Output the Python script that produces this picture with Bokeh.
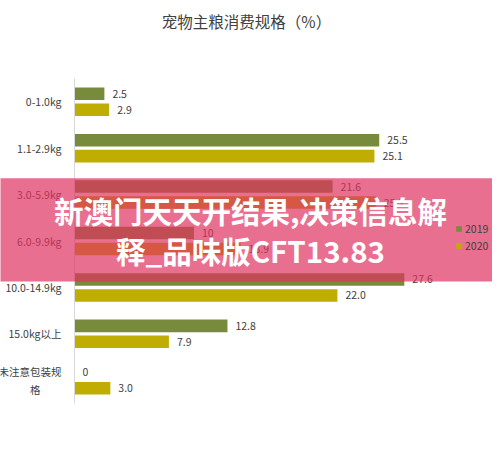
from bokeh.plotting import figure
from bokeh.models import FactorRange, Range1d, ColumnDataSource, Legend, LegendItem, BoxAnnotation, Label
from bokeh.transform import dodge
from bokeh.core.properties import value
from bokeh.embed import file_html
from bokeh.resources import INLINE

categories = ["0-1.0kg", "1.1-2.9kg", "3.0-5.9kg", "6.0-9.9kg", "10.0-14.9kg", "15.0kg以上", "未注意包装规格"]
values_2019 = [2.5, 25.5, 21.6, 10, 27.6, 12.8, 0]
values_2020 = [2.9, 25.1, 25.2, 13.9, 22.0, 7.9, 3.0]
series = ["2019", "2020"]
title_text = "宠物主粮消费规格（%）"
banner_lines = ["新澳门天天开结果,决策信息解", "释_品味版CFT13.83"]

FONT = "Noto Sans CJK SC"
C19 = "#788a3b"
C20 = "#bfad04"
TXT = "#404040"

# axis factors: the long last label wraps onto two lines (second line centred) as in the reference
wrap = {"未注意包装规格": "未注意包装规\n格\u3000\u3000"}
axis_factors = [wrap.get(c, c) for c in categories]

labels_2019 = [f"{v:g}" for v in values_2019]
labels_2020 = [f"{v:.1f}" for v in values_2020]

src = ColumnDataSource(dict(cat=axis_factors, v19=values_2019, v20=values_2020,
                            l19=labels_2019, l20=labels_2020))

W, H = 492, 443
p = figure(width=W, height=H,
           y_range=FactorRange(factors=list(reversed(axis_factors)),
                               range_padding=0.8615, range_padding_units="absolute"),
           x_range=Range1d(-74 / 11.95, (W - 74) / 11.95),
           output_backend="svg", toolbar_location=None,
           min_border_left=0, min_border_right=0, min_border_top=38, min_border_bottom=0)

off = 0.172
bh = 0.27
r19 = p.hbar(y=dodge("cat", off, range=p.y_range), right="v19", left=0, height=bh,
             source=src, color=C19, line_color=None)
r20 = p.hbar(y=dodge("cat", -off, range=p.y_range), right="v20", left=0, height=bh,
             source=src, color=C20, line_color=None)

for xcol, lcol, d in (("v19", "l19", off), ("v20", "l20", -off)):
    p.text(x=xcol, y=dodge("cat", d, range=p.y_range), text=lcol, source=src,
           x_offset=8, text_baseline="middle", text_align="left",
           text_font=value(FONT), text_font_size="10.5px", text_color=TXT)

p.xaxis.visible = False
p.xgrid.grid_line_color = None
p.ygrid.grid_line_color = None
p.outline_line_color = None
p.yaxis.fixed_location = 0
p.yaxis.bounds = (0, len(categories))
p.yaxis.axis_line_color = "#d9d9d9"
p.yaxis.major_tick_line_color = None
p.yaxis.minor_tick_line_color = None
p.yaxis.major_label_text_font = FONT
p.yaxis.major_label_text_font_size = "10.5px"
p.yaxis.major_label_text_color = TXT
p.yaxis.major_label_standoff = 7

p.title.text = title_text
p.title.align = "center"
p.title.standoff = 14
p.title.vertical_align = "bottom"
p.title.text_font = FONT
p.title.text_font_size = "15.5px"
p.title.text_font_style = "normal"
p.title.text_color = TXT

legend = Legend(items=[LegendItem(label=series[0], renderers=[r19]),
                       LegendItem(label=series[1], renderers=[r20])],
                location=(455, 190), padding=0, margin=0, spacing=2,
                glyph_width=7, glyph_height=7, label_height=12, label_standoff=3,
                label_text_font=FONT, label_text_font_size="10.5px", label_text_color=TXT,
                border_line_color=None, background_fill_alpha=0, level="underlay")
p.add_layout(legend)

band = BoxAnnotation(left=-7, right=36, bottom=2.63, top=4.85, level="overlay",
                     fill_color="#de325f", fill_alpha=0.7, line_color=None)
p.add_layout(band)
for txt, yy in zip(banner_lines, (4.16, 3.30)):
    p.add_layout(Label(x=14.73, y=yy, text=txt, text_align="center", text_baseline="middle",
                       level="overlay",
                       text_font=FONT, text_font_size="29.5px", text_font_style="bold",
                       text_color="white"))

open("out.html", "w").write(file_html(p, INLINE))
